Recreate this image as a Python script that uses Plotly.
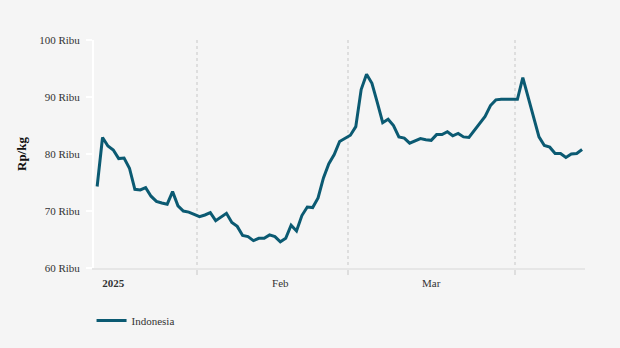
import pandas as pd
import plotly.graph_objects as go

# Daily price (Rp/kg, thousands), Indonesia, from 13 Jan 2025
values = [
    74.3, 82.9, 81.4, 80.7, 79.2, 79.3, 77.5, 73.8, 73.7, 74.1,
    72.6, 71.7, 71.4, 71.2, 73.4, 70.9, 70.0, 69.8, 69.4, 69.0,
    69.3, 69.7, 68.3, 69.0, 69.6, 68.0, 67.3, 65.7, 65.5, 64.8,
    65.2, 65.2, 65.8, 65.5, 64.6, 65.2, 67.5, 66.5, 69.2, 70.7,
    70.6, 72.3, 75.8, 78.3, 79.9, 82.2, 82.8, 83.3, 84.8, 91.3,
    94.0, 92.4, 89.0, 85.5, 86.1, 85.0, 83.0, 82.8, 81.9, 82.3,
    82.7, 82.5, 82.4, 83.4, 83.4, 83.9, 83.2, 83.6, 83.0, 82.9,
    84.2, 85.5, 86.6, 88.5, 89.5, 89.6, 89.6, 89.6, 89.6, 93.4,
    90.0, 86.8, 83.0, 81.5, 81.2, 80.1, 80.1, 79.4, 80.0, 80.1,
    80.8,
]
dates = pd.date_range("2025-01-13 12:00", periods=len(values), freq="D")
series_name = "Indonesia"

y_tickvals = [60, 70, 80, 90, 100]
y_ticktext = ["60 Ribu", "70 Ribu", "80 Ribu", "90 Ribu", "100 Ribu"]
x_tickvals = ["2025-01-16 12:00", "2025-02-16 12:00", "2025-03-16 12:00"]
x_ticktext = ["<b>2025</b>", "Feb", "Mar"]
month_starts = ["2025-02-01", "2025-03-01", "2025-04-01"]

FONT = "Liberation Serif, Times New Roman, serif"

fig = go.Figure()
fig.add_trace(go.Scatter(
    x=dates, y=values, mode="lines", name=series_name,
    line=dict(color="#0b5a72", width=3),
))

fig.update_layout(
    width=620, height=348,
    margin=dict(l=94, r=35, t=40, b=80),
    paper_bgcolor="#f5f5f5", plot_bgcolor="#f5f5f5",
    font=dict(family=FONT, size=11, color="#333333"),
    showlegend=True,
    legend=dict(orientation="h", x=-0.005, xanchor="left", y=-0.23, yanchor="middle",
                font=dict(family=FONT, size=11, color="#333333"),
                bgcolor="rgba(0,0,0,0)"),
    xaxis=dict(
        type="date",
        range=["2025-01-12 22:00", "2025-04-14 01:00"],
        tickmode="array", tickvals=x_tickvals, ticktext=x_ticktext,
        ticks="", showgrid=False,
        showline=True, linecolor="#e6e6e6", linewidth=2,
        tickfont=dict(family=FONT, size=11, color="#333333"),
        ticklabelstandoff=4,
        minor=dict(tickmode="array", tickvals=month_starts, showgrid=True,
                   gridcolor="#dedede", gridwidth=2, griddash="3px,3px",
                   ticks="outside", ticklen=5, tickcolor="#dedede", tickwidth=2),
        zeroline=False, fixedrange=True,
    ),
    yaxis=dict(
        range=[60, 100], tickmode="array", tickvals=y_tickvals, ticktext=y_ticktext,
        showgrid=False, zeroline=False,
        showline=True, linecolor="#ffffff", linewidth=2,
        ticks="outside", ticklen=6, tickcolor="#ffffff", tickwidth=2,
        tickfont=dict(family=FONT, size=11, color="#333333"),
        ticklabelstandoff=4,
        title=dict(text="<b>Rp/kg</b>", font=dict(family=FONT, size=13, color="#111111"), standoff=10),
        fixedrange=True,
    ),
)

fig.write_html("out.html")
